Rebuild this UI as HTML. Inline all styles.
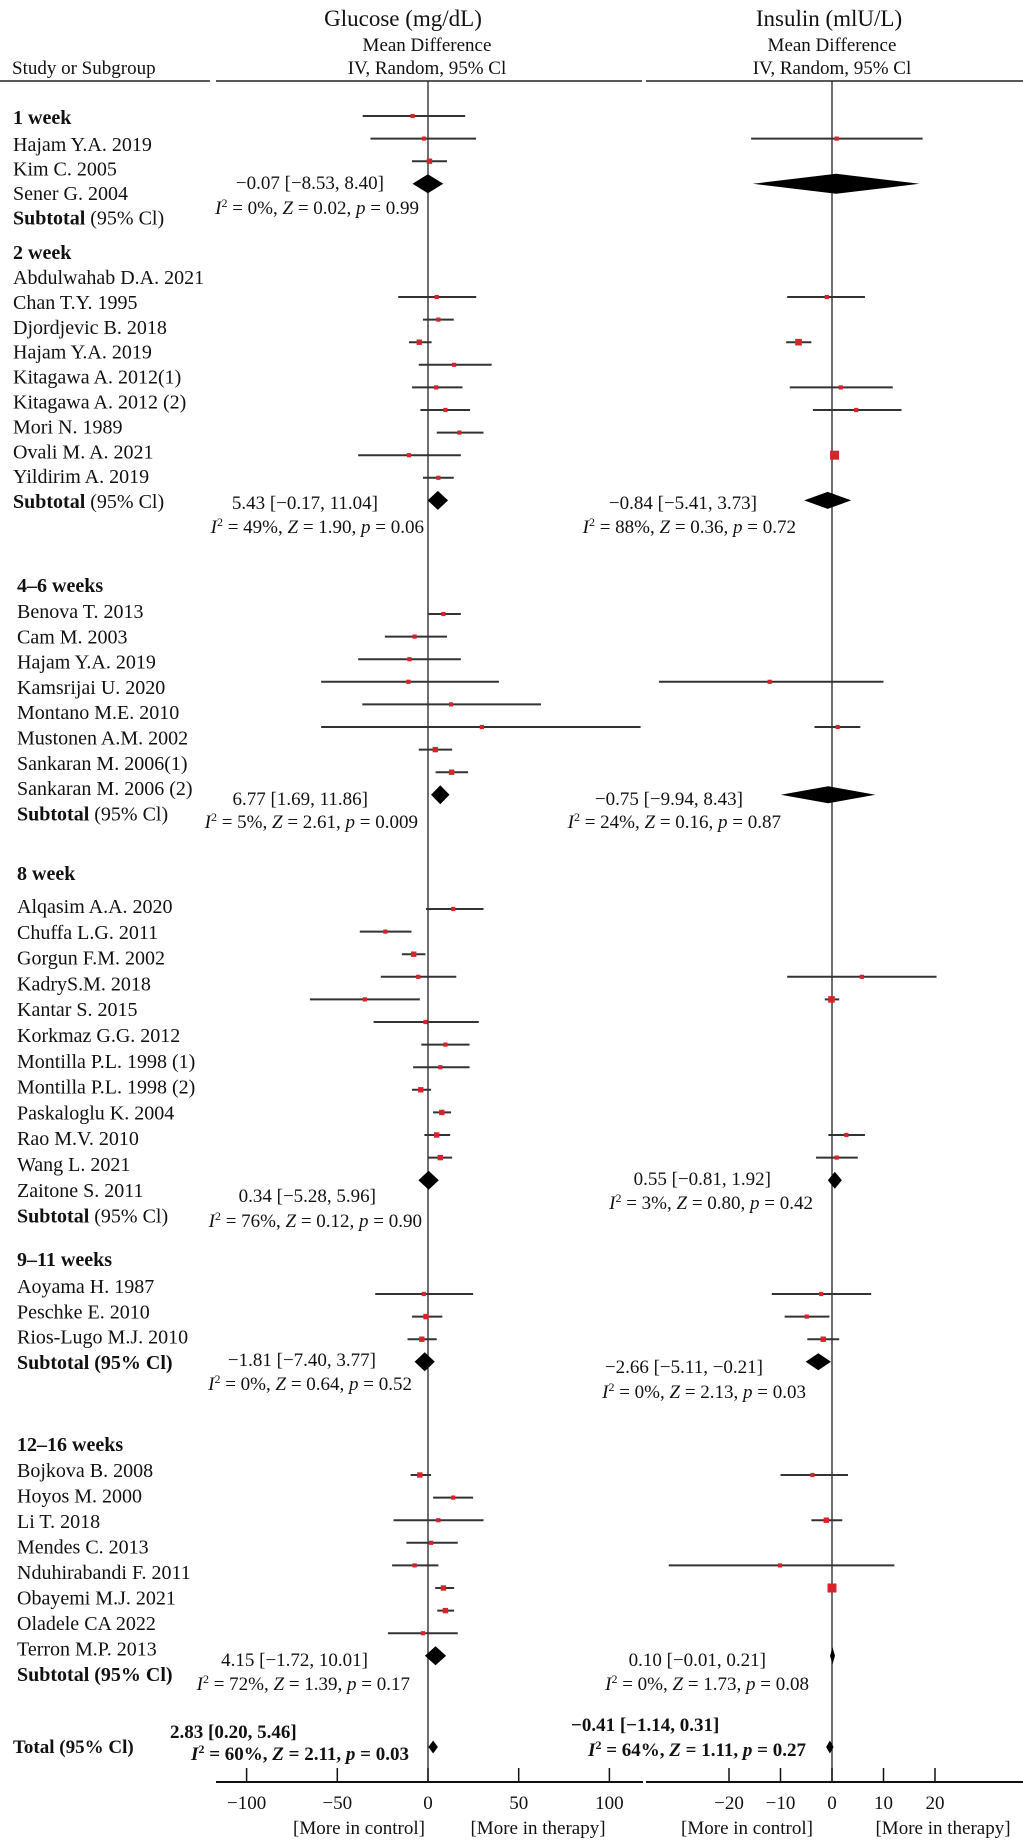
<!DOCTYPE html>
<html><head><meta charset="utf-8">
<style>
html,body{margin:0;padding:0;background:#fff;}
svg{display:block;font-family:"Liberation Serif","DejaVu Serif",serif;}
</style></head>
<body>
<svg id="chart" width="1023" height="1840" viewBox="0 0 1023 1840" xmlns="http://www.w3.org/2000/svg">
  <g fill="#111">
    <text x="403" y="26" font-size="23" text-anchor="middle">Glucose (mg/dL)</text>
    <text x="427" y="51" font-size="19" text-anchor="middle">Mean Difference</text>
    <text x="427" y="74" font-size="19" text-anchor="middle">IV, Random, 95% Cl</text>
    <text x="829" y="26" font-size="23" text-anchor="middle">Insulin (mlU/L)</text>
    <text x="832" y="51" font-size="19" text-anchor="middle">Mean Difference</text>
    <text x="832" y="74" font-size="19" text-anchor="middle">IV, Random, 95% Cl</text>
    <text x="12" y="74" font-size="19">Study or Subgroup</text>
    <line x1="0" y1="81" x2="210" y2="81" stroke="#222" stroke-width="1.5"/>
    <line x1="216" y1="81" x2="642" y2="81" stroke="#222" stroke-width="1.5"/>
    <line x1="646" y1="81" x2="1023" y2="81" stroke="#222" stroke-width="1.5"/>
  </g>
  <g id="plot"></g>
</svg>
<script>
// ---- data ----
const groupNames = ["1 week","2 week","4–6 weeks","8 week","9–11 weeks","12–16 weeks"];
const studyNames = [
 ["Hajam Y.A. 2019","Kim C. 2005","Sener G. 2004"],
 ["Abdulwahab D.A. 2021","Chan T.Y. 1995","Djordjevic B. 2018","Hajam Y.A. 2019","Kitagawa A. 2012(1)","Kitagawa A. 2012 (2)","Mori N. 1989","Ovali M. A. 2021","Yildirim A. 2019"],
 ["Benova T. 2013","Cam M. 2003","Hajam Y.A. 2019","Kamsrijai U. 2020","Montano M.E. 2010","Mustonen A.M. 2002","Sankaran M. 2006(1)","Sankaran M. 2006 (2)"],
 ["Alqasim A.A. 2020","Chuffa L.G. 2011","Gorgun F.M. 2002","KadryS.M. 2018","Kantar S. 2015","Korkmaz G.G. 2012","Montilla P.L. 1998 (1)","Montilla P.L. 1998 (2)","Paskaloglu K. 2004","Rao M.V. 2010","Wang L. 2021","Zaitone S. 2011"],
 ["Aoyama H. 1987","Peschke E. 2010","Rios-Lugo M.J. 2010"],
 ["Bojkova B. 2008","Hoyos M. 2000","Li T. 2018","Mendes C. 2013","Nduhirabandi F. 2011","Obayemi M.J. 2021","Oladele CA 2022","Terron M.P. 2013"]
];
// glucose mean difference, lower, upper per study
const glucoseMD = [
 [-8.5,-2.2,0.8],
 [4.8,5.7,-4.8,14.4,4.5,9.6,17.3,-10.5,5.7],
 [8.5,-7.4,-10.2,-10.8,12.7,29.7,4.0,13.0],
 [13.9,-23.5,-7.9,-5.4,-34.8,-1.4,9.6,6.8,-4.0,7.6,4.8,6.8],
 [-2.3,-1.1,-3.4],
 [-4.5,13.9,5.7,1.7,-7.4,8.5,9.6,-2.8]
];
const glucoseLo = [
 [-36,-31.7,-8.8],
 [-16.4,-2.8,-10.5,-5.1,-8.8,-4.2,4.8,-38.5,-2.8],
 [0,-23.8,-38.5,-58.9,-36.2,-58.9,-5.1,4.2],
 [-1.1,-37.6,-14.4,-26,-65.1,-30,-3.7,-8.2,-8.8,2.8,-2.0,0],
 [-29.1,-8.8,-11.3],
 [-9.6,2.8,-19,-11.9,-19.8,4.0,5.1,-22.1]
];
const glucoseHi = [
 [20.5,26.5,10.5],
 [26.6,14.2,2.0,35.1,19,23.2,30.6,18.1,14.2],
 [18.1,10.5,18.1,39.1,62.3,117.2,13.3,22.1],
 [30.6,-9.1,-1.4,15.6,-4.5,28,22.9,22.9,1.7,12.7,12.2,13.3],
 [24.9,7.9,4.8],
 [1.7,24.9,30.6,16.4,5.7,14.4,14.4,16.4]
];
const glucoseWeight = [
 [1,1,2],
 [1,1,2,1,1,1,1,1,1],
 [1,1,1,1,1,1,2,2],
 [1,1,2,1,1,1,1,1,2,2,2,2],
 [1,2,2],
 [2,1,1,1,1,2,2,1]
];
// insulin (null = not reported)
const insulinMD = [
 [null,0.9,null],
 [-1.0,null,-6.5,null,1.7,4.7,null,0.5,null],
 [null,null,null,-12.1,null,1.1,null,null],
 [null,null,null,5.8,-0.1,null,null,null,null,null,2.8,0.9],
 [-2.1,-4.9,-1.7],
 [-3.8,null,-1.1,null,-10.1,0.0,null,null]
];
const insulinLo = [
 [null,-15.7,null],
 [-8.7,null,-8.9,null,-8.2,-3.7,null,0.0,null],
 [null,null,null,-33.6,null,-3.4,null,null],
 [null,null,null,-8.7,-1.4,null,null,null,null,null,-0.7,-3.1],
 [-11.7,-9.2,-4.8],
 [-10,null,-4,null,-31.7,-0.4,null,null]
];
const insulinHi = [
 [null,17.6,null],
 [6.4,null,-4.0,null,11.8,13.5,null,1.0,null],
 [null,null,null,10.0,null,5.5,null,null],
 [null,null,null,20.3,1.4,null,null,null,null,null,6.4,5.0],
 [7.6,-0.5,1.4],
 [3.1,null,2,null,12.1,0.4,null,null]
];
const insulinWeight = [
 [null,1,null],
 [1,null,3,null,1,1,null,5,null],
 [null,null,null,1,null,1,null,null],
 [null,null,null,1,3,null,null,null,null,null,1,1],
 [1,1,2],
 [1,null,2,null,1,5,null,null]
];
// subtotals
const subGlucoseMD = [-0.07,5.43,6.77,0.34,-1.81,4.15];
const subGlucoseLo = [-8.53,-0.17,1.69,-5.28,-7.40,-1.72];
const subGlucoseHi = [8.40,11.04,11.86,5.96,3.77,10.01];
const subInsulinMD = [0.8,-0.84,-0.75,0.55,-2.66,0.10];
const subInsulinLo = [-15.4,-5.41,-9.94,-0.81,-5.11,-0.01];
const subInsulinHi = [17.0,3.73,8.43,1.92,-0.21,0.21];
const subGlucoseText = ["−0.07 [−8.53, 8.40]","5.43 [−0.17, 11.04]","6.77 [1.69, 11.86]","0.34 [−5.28, 5.96]","−1.81 [−7.40, 3.77]","4.15 [−1.72, 10.01]"];
const subGlucoseStats = [["0%","0.02","0.99"],["49%","1.90","0.06"],["5%","2.61","0.009"],["76%","0.12","0.90"],["0%","0.64","0.52"],["72%","1.39","0.17"]];
const subInsulinText = [null,"−0.84 [−5.41, 3.73]","−0.75 [−9.94, 8.43]","0.55 [−0.81, 1.92]","−2.66 [−5.11, −0.21]","0.10 [−0.01, 0.21]"];
const subInsulinStats = [null,["88%","0.36","0.72"],["24%","0.16","0.87"],["3%","0.80","0.42"],["0%","2.13","0.03"],["0%","1.73","0.08"]];
const totalGlucose = [2.83,0.20,5.46];
const totalInsulin = [-0.41,-1.14,0.31];
const totalGlucoseText = "2.83 [0.20, 5.46]";
const totalGlucoseStats = ["60%","2.11","0.03"];
const totalInsulinText = "−0.41 [−1.14, 0.31]";
const totalInsulinStats = ["64%","1.11","0.27"];
const glucoseTicks = [-100,-50,0,50,100];
const glucoseTickLabels = ["−100","−50","0","50","100"];
const insulinTicks = [-20,-10,0,10,20];
const insulinTickLabels = ["−20","−10","0","10","20"];

// ---- layout ----
const NS = "http://www.w3.org/2000/svg";
const plot = document.getElementById("plot");
const gX = v => 428 + v * 1.814;
const iX = v => 832 + v * 5.15;
const AXIS_Y = 1782;
const groupHeadY = [118,253,586,874,1260,1445];
const firstLabelY = [145,278,612,907,1287,1471];
const labelStep = [24.5,24.9,25.3,25.8,25.3,25.5];
const markStartY = [116,297,614,909,1294,1475];
const markStep = 22.6;
const labelX = [13,13,17,17,17,17];
const gStatY = [[183,208],[503,527],[799,822],[1196,1221],[1360,1384],[1660,1684]];
const gStatEnd = [[384,419],[378,424],[368,418],[376,422],[376,412],[368,410]];
const iStatY = [null,[503,527],[799,822],[1179,1203],[1367,1392],[1660,1684]];
const iStatEnd = [null,[757,796],[743,781],[771,813],[763,806],[766,809]];

function mk(tag, attrs, parent){
  const e = document.createElementNS(NS, tag);
  for (const k in attrs) e.setAttribute(k, attrs[k]);
  (parent || plot).appendChild(e);
  return e;
}
function txt(x, y, s, size, anchor, weight){
  const t = mk("text", {x:x, y:y, "font-size":size, "text-anchor":anchor||"start", fill:"#111"});
  if (weight) t.setAttribute("font-weight", weight);
  t.textContent = s;
  return t;
}
function statLine(x, y, st, bold){
  const t = mk("text", {x:x, y:y, "font-size":19, "text-anchor":"end", fill:"#111"});
  if (bold) t.setAttribute("font-weight","bold");
  const parts = [["I","italic"],["2","sup"],[" = "+st[0]+", ",null],["Z","italic"],[" = "+st[1]+", ",null],["p","italic"],[" = "+st[2],null]];
  parts.forEach(p => {
    const s = document.createElementNS(NS,"tspan");
    if (p[1]==="italic") s.setAttribute("font-style","italic");
    if (p[1]==="sup"){ s.setAttribute("baseline-shift","super"); s.setAttribute("font-size","12"); }
    s.textContent = p[0];
    t.appendChild(s);
  });
  return t;
}
function diamond(xf, md, lo, hi, y, h){
  let l = xf(lo), r = xf(hi), c = xf(md);
  if (r - l < 5) { l = c - 2.5; r = c + 2.5; }
  return mk("polygon", {points:`${l},${y} ${c},${y-h/2} ${r},${y} ${c},${y+h/2}`, fill:"#000"});
}
function ci(xf, md, lo, hi, w, y){
  const g = mk("g", {});
  mk("line", {x1:xf(lo), y1:y, x2:xf(hi), y2:y, stroke:"#333", "stroke-width":2}, g);
  const s = 3 + w * 1.2;
  mk("rect", {x:xf(md)-s/2, y:y-s/2, width:s, height:s, fill:"#d8232a"}, g);
  return g;
}

// zero lines
let el;
el = mk("line", {x1:gX(0), y1:81, x2:gX(0), y2:AXIS_Y, stroke:"#222", "stroke-width":1.3});


el = mk("line", {x1:iX(0), y1:81, x2:iX(0), y2:AXIS_Y, stroke:"#222", "stroke-width":1.3});



groupNames.forEach((gn, gi) => {
  el = txt(labelX[gi], groupHeadY[gi]+6, gn, 20, "start", "bold");
  
  
  const names = studyNames[gi];
  names.forEach((nm, si) => {
    const ly = firstLabelY[gi] + si * labelStep[gi];
    el = txt(labelX[gi], ly+6, nm, 20);
    
    
    const my = markStartY[gi] + si * markStep;
    el = ci(gX, glucoseMD[gi][si], glucoseLo[gi][si], glucoseHi[gi][si], glucoseWeight[gi][si], my);
    
    
    if (insulinMD[gi][si] !== null) {
      el = ci(iX, insulinMD[gi][si], insulinLo[gi][si], insulinHi[gi][si], insulinWeight[gi][si], my);
      
      
    }
  });
  // subtotal label
  const sy = firstLabelY[gi] + names.length * labelStep[gi] + 6;
  const st = mk("text", {x:labelX[gi], y:sy, "font-size":20, fill:"#111"});
  
  
  const b = document.createElementNS(NS,"tspan"); b.setAttribute("font-weight","bold"); b.textContent = "Subtotal"; st.appendChild(b);
  const r = document.createElementNS(NS,"tspan"); if (gi>=4) r.setAttribute("font-weight","bold"); r.textContent = " (95% Cl)"; st.appendChild(r);
  // diamonds
  const dy = markStartY[gi] + names.length * markStep;
  el = diamond(gX, subGlucoseMD[gi], subGlucoseLo[gi], subGlucoseHi[gi], dy, 19);
  
  
  el = diamond(iX, subInsulinMD[gi], subInsulinLo[gi], subInsulinHi[gi], dy, gi===0?20:17);
  
  
  // stats
  el = txt(gStatEnd[gi][0], gStatY[gi][0]+6, subGlucoseText[gi], 19, "end");
  
  
  el = statLine(gStatEnd[gi][1], gStatY[gi][1]+6, subGlucoseStats[gi]);
  
  
  if (subInsulinText[gi]) {
    el = txt(iStatEnd[gi][0], iStatY[gi][0]+6, subInsulinText[gi], 19, "end");
    
    
    el = statLine(iStatEnd[gi][1], iStatY[gi][1]+6, subInsulinStats[gi]);
    
    
  }
});

// total
el = txt(13, 1753, "Total (95% Cl)", 19, "start", "bold");


el = txt(170, 1738, totalGlucoseText, 19, "start", "bold");


el = statLine(409, 1760, totalGlucoseStats, true);


el = txt(571, 1731, totalInsulinText, 19, "start", "bold");


el = statLine(806, 1756, totalInsulinStats, true);


el = diamond(gX, totalGlucose[0], totalGlucose[1], totalGlucose[2], 1747, 13);


el = diamond(iX, totalInsulin[0], totalInsulin[1], totalInsulin[2], 1747, 13);



// axes
el = mk("line", {x1:216, y1:AXIS_Y, x2:643, y2:AXIS_Y, stroke:"#111", "stroke-width":2});


el = mk("line", {x1:646, y1:AXIS_Y, x2:1023, y2:AXIS_Y, stroke:"#111", "stroke-width":2});


glucoseTicks.forEach((t, k) => {
  el = mk("line", {x1:gX(t), y1:AXIS_Y-14, x2:gX(t), y2:AXIS_Y, stroke:"#111", "stroke-width":1.5});
  
  
  el = txt(gX(t), 1809, glucoseTickLabels[k], 19, "middle");
  
  
});
insulinTicks.forEach((t, k) => {
  el = mk("line", {x1:iX(t), y1:AXIS_Y-14, x2:iX(t), y2:AXIS_Y, stroke:"#111", "stroke-width":1.5});
  
  
  el = txt(iX(t), 1809, insulinTickLabels[k], 19, "middle");
  
  
});
el = txt(359, 1834, "[More in control]", 19, "middle");


el = txt(538, 1834, "[More in therapy]", 19, "middle");


el = txt(747, 1834, "[More in control]", 19, "middle");


el = txt(943, 1834, "[More in therapy]", 19, "middle");


</script>
</body></html>
